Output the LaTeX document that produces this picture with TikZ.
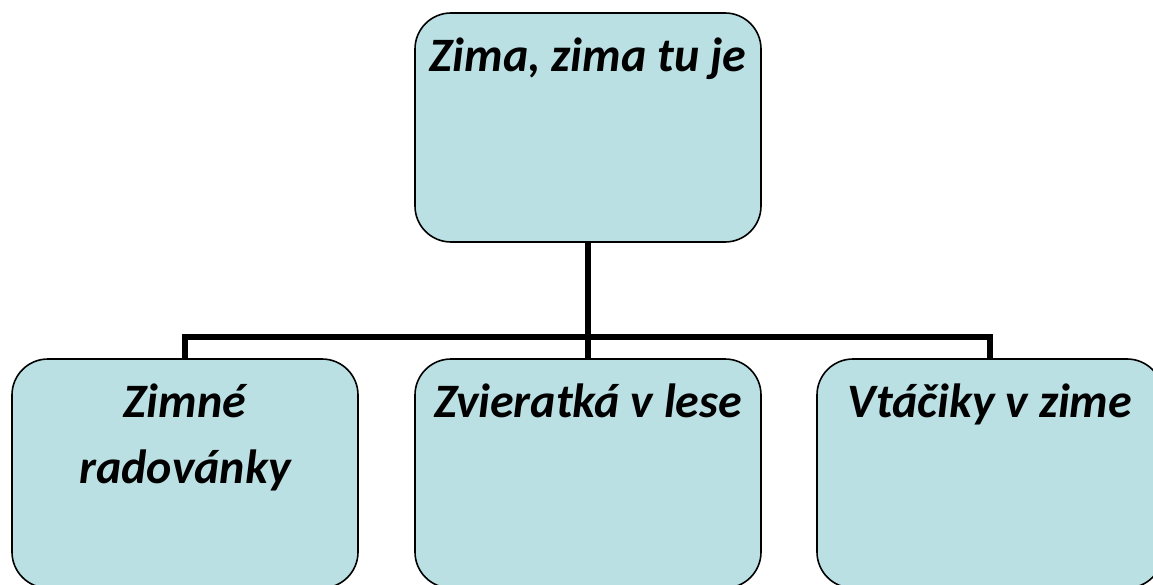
\documentclass[tikz,border=0pt]{standalone}
\usepackage{fontspec}
\setmainfont{Carlito}
\usepackage{xcolor}
\definecolor{iceblue}{RGB}{186,224,227}
\newcommand{\topictext}[1]{\parbox[c][229pt][t]{340pt}{\centering\fontsize{48}{66}\selectfont\bfseries\itshape\vspace*{25pt}#1}}

\begin{document}
\begin{tikzpicture}[
  x=1pt,y=-1pt,
  topic/.style={draw,line width=1.6pt,rectangle,rounded corners=36pt,fill=iceblue,
    minimum width=346pt,minimum height=229pt,inner sep=0pt},
  link/.style={-,line width=5.5pt,black}]

  \useasboundingbox (0,0) rectangle (1153,585);
  \clip (0,0) rectangle (1153,585);

  % the boxes
  \node[topic] (zima) at (588,127.5) {\topictext{Zima, zima tu je}};
  \node[topic] (radovanky) at (185,473.5) {\topictext{Zimné\\radovánky}};
  \node[topic] (zvieratka) at (588,473.5) {\topictext{Zvieratká v lese}};
  \node[topic] (vtaciky) at (990,473.5) {\topictext{Vtáčiky v zime}};

  % tree lines
  \coordinate (bus) at (588,337);
  \draw [link] (zima.south) -- (bus);
  \draw [link] (radovanky.north) |- (bus) -| (vtaciky.north);
  \draw [link] (bus) -- (zvieratka.north);
\end{tikzpicture}
\end{document}
